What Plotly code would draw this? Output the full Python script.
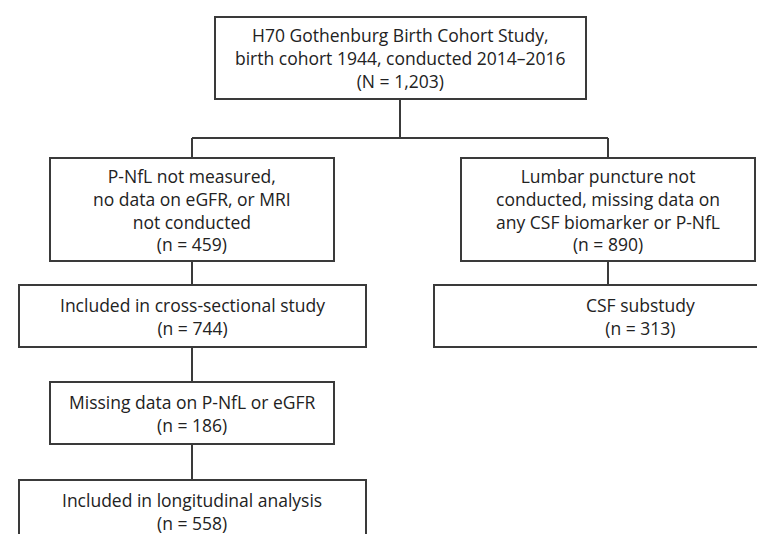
import plotly.graph_objects as go

# ---- data ----
box_labels = [
    ["H70 Gothenburg Birth Cohort Study,", "birth cohort 1944, conducted 2014–2016"],
    ["P-NfL not measured,", "no data on eGFR, or MRI", "not conducted"],
    ["Lumbar puncture not", "conducted, missing data on", "any CSF biomarker or P-NfL"],
    ["Included in cross-sectional study"],
    ["CSF substudy"],
    ["Missing data on P-NfL or eGFR"],
    ["Included in longitudinal analysis"],
]
count_symbols = ["N", "n", "n", "n", "n", "n", "n"]
counts = ["1,203", "459", "890", "744", "313", "186", "558"]

# ---- layout (box geometry in pixel-like coordinates) ----
boxes = [
    (207, 9, 578, 91),
    (42, 150, 326, 253),
    (453, 150, 747, 253),
    (11, 277, 358, 339),
    (426, 277, 838, 339),
    (42, 374, 326, 436),
    (11, 472, 358, 536),
]
text_x = [392, 184, 600, 184, 632, 184, 184]
text_yc = [50, 201.5, 201.5, 308, 308, 405, 503]
connectors = [
    ((392, 91), (392, 130)),
    ((184, 130), (600, 130)),
    ((184, 130), (184, 150)),
    ((600, 130), (600, 150)),
    ((184, 253), (184, 277)),
    ((600, 253), (600, 277)),
    ((184, 339), (184, 374)),
    ((184, 436), (184, 472)),
]

line_color = "#3a3a3a"
fig = go.Figure()
fig.add_trace(go.Scatter(x=[0, 765], y=[0, 534], mode="markers",
                         marker=dict(opacity=0), hoverinfo="skip", showlegend=False))

shapes = []
for (x0, y0, x1, y1) in boxes:
    shapes.append(dict(type="rect", xref="x", yref="y", x0=x0, y0=y0, x1=x1, y1=y1,
                       line=dict(color=line_color, width=2), fillcolor="rgba(0,0,0,0)"))
for (a, b) in connectors:
    shapes.append(dict(type="line", xref="x", yref="y", x0=a[0], y0=a[1], x1=b[0], y1=b[1],
                       line=dict(color=line_color, width=2)))

annotations = []
for lab, sym, c, tx, yc in zip(box_labels, count_symbols, counts, text_x, text_yc):
    text = "<br>".join(lab + [f"({sym} = {c})"])
    annotations.append(dict(x=tx, y=yc, xref="x", yref="y",
                            text=text, showarrow=False,
                            xanchor="center", yanchor="middle", align="center",
                            font=dict(family="Open Sans", size=17.5, color="#222222")))

fig.update_layout(
    width=765, height=534,
    margin=dict(l=0, r=0, t=0, b=0),
    paper_bgcolor="white", plot_bgcolor="white",
    xaxis=dict(range=[0, 765], visible=False, fixedrange=True),
    yaxis=dict(range=[534, 0], visible=False, fixedrange=True),
    shapes=shapes, annotations=annotations, showlegend=False,
)
fig.write_html("out.html")
